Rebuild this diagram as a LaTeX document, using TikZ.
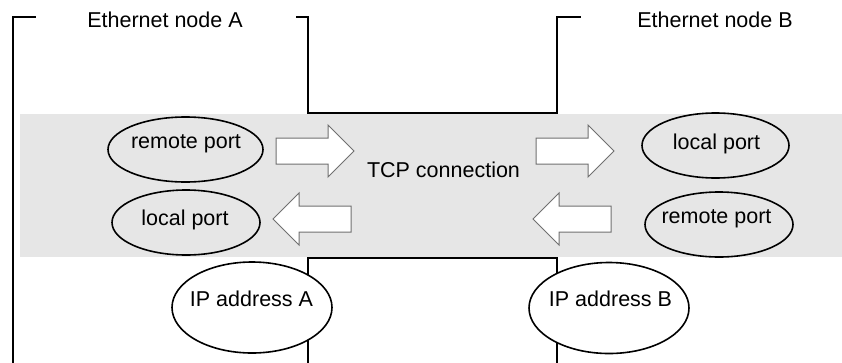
\documentclass[tikz,border=0pt]{standalone}
\usepackage{fontspec}
\setmainfont{Liberation Sans}
\usetikzlibrary{shapes.geometric}

\definecolor{bandgray}{HTML}{E6E6E6}
\definecolor{arrowedge}{HTML}{707070}

\tikzset{
  frame/.style={draw=black, line width=2pt, line cap=rect, line join=miter},
  portell/.style={draw=black, line width=1.6pt, ellipse, fill=bandgray,
                  inner sep=0pt, minimum width=150pt, minimum height=65pt},
  ipell/.style={draw=black, line width=1.6pt, ellipse, fill=white,
                inner sep=0pt, minimum width=160pt, minimum height=91pt},
  lbl/.style={anchor=base, inner sep=0pt, font=\fontsize{21.5}{26}\selectfont},
  blockarrow/.style={draw=arrowedge, fill=white, line width=1pt, line join=miter},
  rarrow/.pic={
    \draw[blockarrow] (0,-13) -- (52,-13) -- (52,-26) -- (78,0)
                      -- (52,26) -- (52,13) -- (0,13) -- cycle;
  }
}

\begin{document}
\begin{tikzpicture}[x=1pt, y=-1pt]
  \useasboundingbox (0,0) rectangle (842,362);

  % shaded transport band
  \fill[bandgray] (20,114) rectangle (842,257);

  % outline of node A (left) and node B (right)
  \coordinate (a1) at (35,17);
  \coordinate (a2) at (13,17);
  \coordinate (a3) at (13,362);
  \draw[frame] (a1) -- (a2) -- (a3);

  \coordinate (b1) at (297,17);
  \coordinate (b2) at (308,17);
  \coordinate (b3) at (308,113);
  \coordinate (b4) at (557,113);
  \coordinate (b5) at (557,17);
  \coordinate (b6) at (580,17);
  \draw[frame] (b1) -- (b2) -- (b3) -- (b4) -- (b5) -- (b6);

  \coordinate (c1) at (308,362);
  \coordinate (c2) at (308,258);
  \coordinate (c3) at (557,258);
  \coordinate (c4) at (557,362);
  \draw[frame] (c1) -- (c2) -- (c3) -- (c4);

  % data flow arrows
  \pic at (276,151) {rarrow};
  \pic at (536,151) {rarrow};
  \pic[xscale=-1] at (351,219) {rarrow};
  \pic[xscale=-1] at (611,219) {rarrow};

  % port ellipses
  \node[portell, minimum width=155pt] (remA) at (185.5,149.5) {};
  \node[portell, minimum width=148pt] (locA) at (186,222.5) {};
  \node[portell, minimum width=147pt] (locB) at (715.5,145.5) {};
  \node[portell, minimum width=148pt] (remB) at (719,224.5) {};

  % IP address ellipses
  \node[ipell] (ipA) at (252,307.5) {};
  \node[ipell] (ipB) at (609,308) {};

  % labels
  \node[lbl] (tA) at (165,27) {Ethernet node A};
  \node[lbl] (tB) at (715,27) {Ethernet node B};
  \node[lbl] (tcp) at (443.5,177) {TCP connection};
  \node[lbl] at (186,148) {remote port};
  \node[lbl] at (185,225) {local port};
  \node[lbl] at (716.5,149) {local port};
  \node[lbl] at (716.5,223.5) {remote port};
  \node[lbl] at (251.5,306) {IP address A};
  \node[lbl] at (610.5,306) {IP address B};
\end{tikzpicture}
\end{document}
